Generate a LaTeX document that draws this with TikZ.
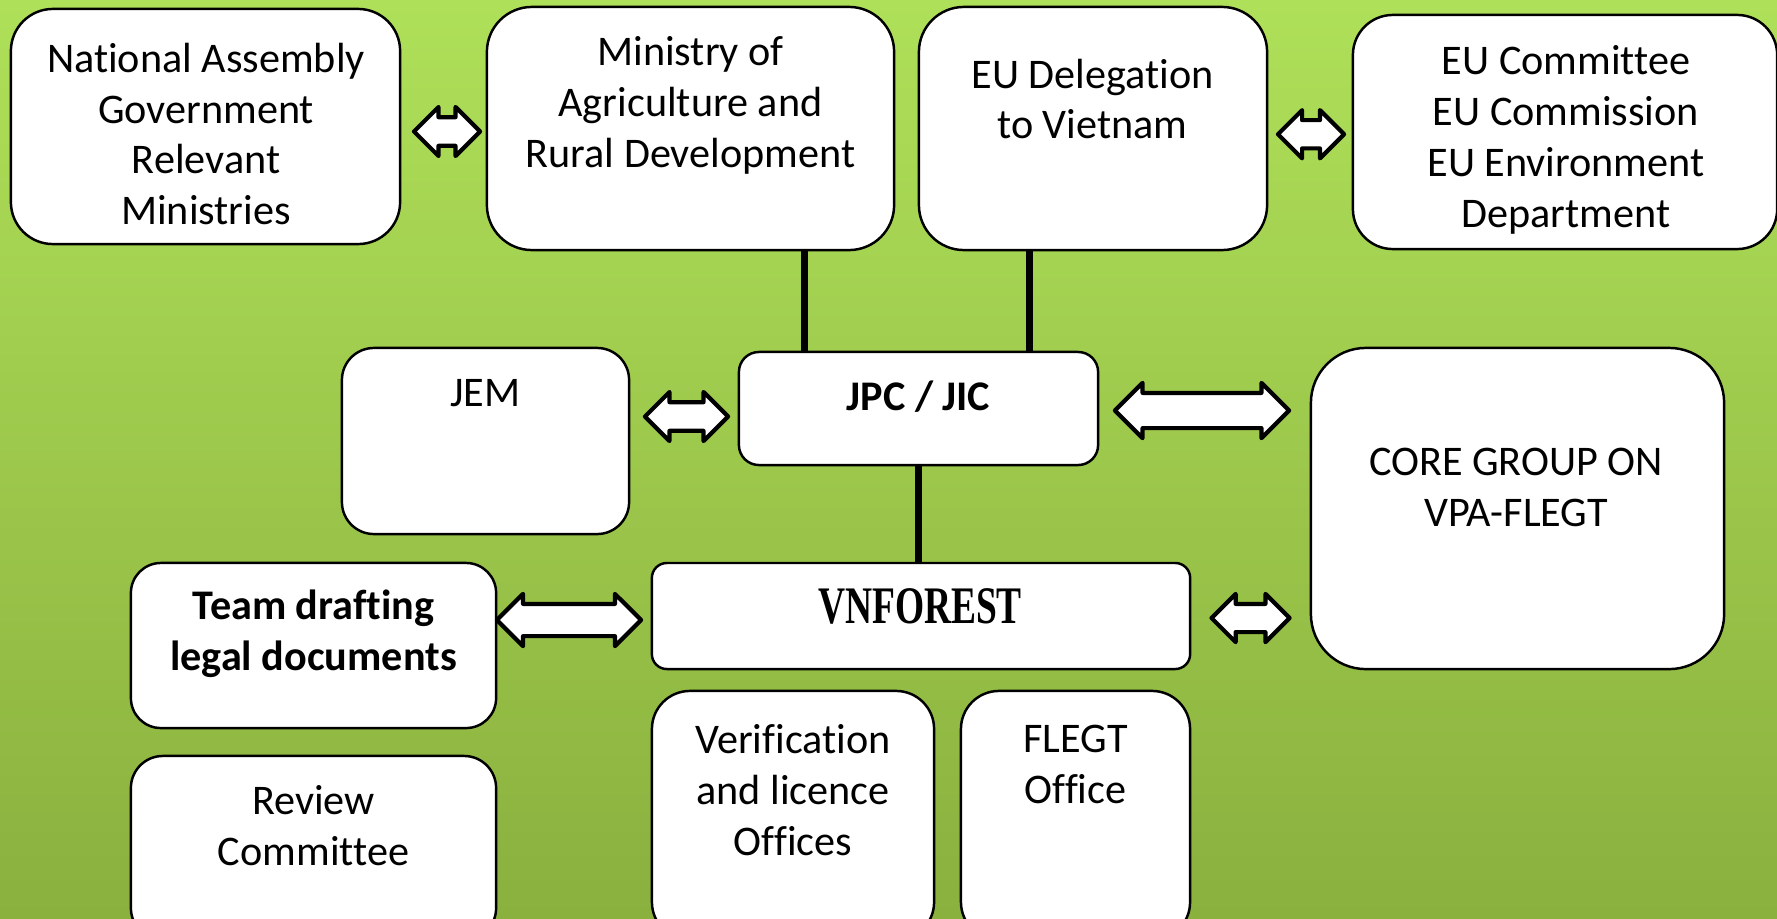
\documentclass[tikz,border=0pt]{standalone}
\usepackage{fontspec}
\setmainfont[Ligatures=NoCommon]{Carlito}
\newfontfamily\vnfont[FakeStretch=0.71]{Liberation Serif}
\usetikzlibrary{positioning,calc,shapes.arrows}
\definecolor{bgtop}{RGB}{175,224,89}
\definecolor{bgbot}{RGB}{138,176,62}

\begin{document}
\begin{tikzpicture}[x=0.01cm,y=-0.01cm]
  \useasboundingbox (0,0) rectangle (1777,918);
  \clip (0,0) rectangle (1777,918);
  \shade[top color=bgtop,bottom color=bgbot] (0,0) rectangle (1777,918);
  % boxes
  \begin{scope}[
    every node/.style={
      draw,
      fill=white,
      line width=0.7pt,
      inner sep=0pt,
    },
    ]
    \node[rounded corners=0.42cm,minimum width=3.89cm,minimum height=2.35cm] (na)     at (205.5,126.5) {};
    \node[rounded corners=0.45cm,minimum width=4.07cm,minimum height=2.43cm] (mard)   at (690.5,128.5) {};
    \node[rounded corners=0.45cm,minimum width=3.48cm,minimum height=2.43cm] (eudel)  at (1093,128.5)  {};
    \node[rounded corners=0.40cm,minimum width=4.24cm,minimum height=2.34cm] (eucom)  at (1565,132)    {};
    \node[rounded corners=0.32cm,minimum width=2.87cm,minimum height=1.86cm] (jem)    at (485.5,441)   {};
    \node[rounded corners=0.20cm,minimum width=3.59cm,minimum height=1.13cm] (jpc)    at (918.5,408.5) {};
    \node[rounded corners=0.55cm,minimum width=4.13cm,minimum height=3.21cm] (core)   at (1517.5,508.5){};
    \node[rounded corners=0.30cm,minimum width=3.65cm,minimum height=1.65cm] (team)   at (313.5,645.5) {};
    \node[rounded corners=0.15cm,minimum width=5.38cm,minimum height=1.06cm] (vnf)    at (921,616)     {};
    \node[rounded corners=0.32cm,minimum width=3.65cm,minimum height=1.84cm] (review) at (313.5,848)   {};
    \node[rounded corners=0.38cm,minimum width=2.82cm,minimum height=2.49cm] (verif)  at (793,815.5)   {};
    \node[rounded corners=0.38cm,minimum width=2.29cm,minimum height=2.49cm] (flegt)  at (1075.5,815.5){};
  \end{scope}
  % texts
  \begin{scope}[
    every node/.style={
      align=center,
      inner sep=0pt,
      font=\fontsize{12}{14.5}\selectfont,
    },
    ]
    \node at ($(na)+(0.5,7.5)$)     {National Assembly\\Government\\Relevant\\Ministries};
    \node at ($(mard)+(0,-23.5)$)   {Ministry of\\Agriculture and\\Rural Development};
    \node at ($(eudel)+(-0.5,-29.5)$) {EU Delegation\\to Vietnam};
    \node at ($(eucom)+(1,8)$)      {EU Committee\\EU Commission\\EU Environment\\Department};
    \node at ($(jem)+(0,-48)$)      {JEM};
    \node at ($(jpc)+(0,-11.5)$)    {\bfseries JPC / JIC};
    \node at ($(core)+(-1.5,-21.5)$) {CORE GROUP ON\\VPA-FLEGT};
    \node at ($(team)+(0,-11.5)$)   {\bfseries Team drafting\\\bfseries legal documents};
    \node at ($(vnf)+(-1,-10)$)     {\vnfont\fontsize{15}{17}\selectfont\bfseries VNFOREST};
    \node at ($(review)+(0,-22)$)   {Review\\Committee};
    \node at ($(verif)+(0,-25.5)$)  {Verification\\and licence\\Offices};
    \node at ($(flegt)+(0,-51.5)$)  {FLEGT\\Office};
  \end{scope}
  % links
  \begin{scope}[every path/.style={draw,line width=2pt}]
    \coordinate (m1) at ($(mard.south)+(113.5,0)$);
    \coordinate (e1) at ($(eudel.south)+(-64,0)$);
    \path (m1) -- (m1 |- jpc.north);
    \path (e1) -- (e1 |- jpc.north);
    \path (jpc.south) -- (jpc.south |- vnf.north);
  \end{scope}
  % block arrows
  \begin{scope}[
    every node/.style={
      double arrow,
      draw,
      fill=white,
      line width=1.2pt,
      line join=round,
      inner xsep=0pt,
      inner ysep=0.12cm,
      double arrow tip angle=90,
      double arrow head extend=0.1cm,
    },
    ]
    \node[minimum height=0.66cm,minimum width=0.49cm] (a1) at ($(na.east)!0.5!(mard.west)+(3.5,4)$) {};
    \node[minimum height=0.66cm,minimum width=0.47cm] (a2) at ($(eudel.east)!0.5!(eucom.west)+(1,4)$) {};
    \node[minimum height=0.83cm,minimum width=0.49cm] (a3) at ($(jpc.west)!0.5!(jpc.west -| jem.east)+(2.5,8)$) {};
    \node[minimum height=1.74cm,minimum width=0.53cm,inner ysep=0.155cm] (a4) at ($(jpc.east)!0.5!(jpc.east -| core.west)+(-2.5,2)$) {};
    \node[minimum height=1.44cm,minimum width=0.52cm,inner ysep=0.14cm] (a5) at ($(vnf.west)!0.5!(vnf.west -| team.east)+(-5,4)$) {};
    \node[minimum height=0.78cm,minimum width=0.48cm] (a6) at ($(vnf.east)!0.5!(vnf.east -| core.west)+(0,2)$) {};
  \end{scope}
\end{tikzpicture}
\end{document}
